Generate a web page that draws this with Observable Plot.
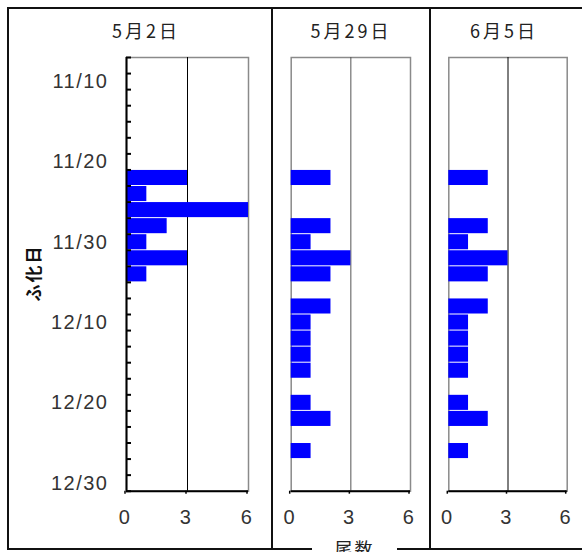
<!DOCTYPE html>
<html><head><meta charset="utf-8">
<script src="https://cdn.jsdelivr.net/npm/d3@7"></script>
<script src="https://cdn.jsdelivr.net/npm/@observablehq/plot@0.6"></script>
<style>
body{margin:0;background:#fff;}
#wrap{position:relative;width:582px;height:552px;overflow:hidden;background:#fff;font-family:"Noto Sans CJK JP",sans-serif;}
.box{position:absolute;border:2px solid #111;box-sizing:border-box;}
.vline{position:absolute;background:#111;}
.title{position:absolute;width:200px;text-align:center;font-size:18px;line-height:18px;color:#222;letter-spacing:3px;white-space:nowrap;font-family:"Noto Sans CJK JP",sans-serif;}
.xtitle{position:absolute;background:#fff;text-align:center;font-size:18px;line-height:18px;color:#222;letter-spacing:2px;font-family:"Noto Sans CJK JP",sans-serif;}
.ytitle{position:absolute;text-align:center;font-size:17px;line-height:20px;font-weight:bold;color:#111;transform:rotate(-90deg);white-space:nowrap;letter-spacing:2px;font-family:"Noto Sans CJK JP",sans-serif;}
svg{position:absolute;top:0;overflow:visible;}
</style></head><body><div id="wrap"></div>
<script>
// ---- data ----
const hatchDates = ["11/8","11/10","11/12","11/14","11/16","11/18","11/20","11/22","11/24","11/26","11/28","11/30",
  "12/2","12/4","12/6","12/8","12/10","12/12","12/14","12/16","12/18","12/20","12/22","12/24","12/26","12/28","12/30"];
const yTickLabels = ["11/10","11/20","11/30","12/10","12/20","12/30"];
const xTicks = [0, 3, 6];
const sampleDates = ["5月2日", "5月29日", "6月5日"];
const countsMay2  = [0,0,0,0,0,0,0,3,1,6,2,1,3,1,0,0,0,0,0,0,0,0,0,0,0,0,0];
const countsMay29 = [0,0,0,0,0,0,0,2,0,0,2,1,3,2,0,2,1,1,1,1,0,1,2,0,1,0,0];
const countsJun5  = [0,0,0,0,0,0,0,2,0,0,2,1,3,2,0,2,1,1,1,1,0,1,2,0,1,0,0];
const yTitle = "ふ化日";
const xTitle = "尾数";

// ---- layout ----
const wrap = document.getElementById("wrap");
const layout = [
  {left: 0,     width: 272, mL: 126,  mR: 24,   grid: "#000", yAxis: true,  titleX: 146},
  {left: 272,   width: 157, mL: 18.7, mR: 19,   grid: "#555", yAxis: false, titleX: 351},
  {left: 429,   width: 153, mL: 19.3, mR: 15.3, grid: "#000", yAxis: false, titleX: 504}
];
const seriesList = [countsMay2, countsMay29, countsJun5];

function add(tag, cls, css, text) {
  const el = document.createElement(tag);
  el.className = cls;
  Object.assign(el.style, css);
  if (text) el.textContent = text;
  wrap.appendChild(el);
  return el;
}

function panel(counts, L) {
  const rows = hatchDates.map((date, i) => ({date, i, i2: i + 1, count: counts[i]})).filter(d => d.count > 0);
  const n = hatchDates.length;
  const marks = [
    Plot.frame({stroke: "#8a8a8a", strokeWidth: 1.5}),
    Plot.ruleX([3], {stroke: L.grid, strokeWidth: 1}),
    Plot.rect(rows, {x1: d => 0, x2: "count", y1: "i", y2: "i2", fill: "#0000ff", insetTop: 0.5, insetBottom: 0.5}),
    Plot.ruleY([n], {stroke: "#000", strokeWidth: 2}),
    Plot.axisX({ticks: xTicks, tickFormat: d => String(d), label: null, tickSize: 3, tickPadding: 16,
                stroke: "#000", strokeWidth: 1.5, dx: -1.5, fill: "#333"})
  ];
  if (L.yAxis) {
    marks.push(
      Plot.ruleX([0], {stroke: "#000", strokeWidth: 2}),
      Plot.axisY({ticks: d3.range(0, n + 1), tickSize: 5, dx: 5, tickFormat: () => "", label: null, stroke: "#000", strokeWidth: 2}),
      Plot.axisY({ticks: yTickLabels.map(l => hatchDates.indexOf(l) + 0.5), label: null,
                  tickFormat: v => hatchDates[Math.round(v - 0.5)], tickSize: 0, tickPadding: 18, fill: "#333"})
    );
  }
  const svg = Plot.plot({
    width: L.width, height: 530,
    marginTop: 57, marginBottom: 39.3, marginLeft: L.mL, marginRight: L.mR,
    x: {domain: [0, 6], axis: null},
    y: {domain: [0, n], reverse: true, axis: null},
    style: {fontFamily: "Liberation Sans", fontSize: "20px", letterSpacing: "1.5px", color: "#222", background: "transparent"},
    marks
  });
  svg.style.left = L.left + "px";
  wrap.appendChild(svg);
}

// outer frames
add("div", "box", {left: "7px", top: "7px", width: "640px", height: "543px"});
add("div", "vline", {left: "271px", top: "7px", width: "2px", height: "543px"});
add("div", "vline", {left: "428.5px", top: "7px", width: "2px", height: "543px"});

layout.forEach((L, k) => {
  panel(seriesList[k], L);
  add("div", "title", {left: (L.titleX - 100) + "px", top: "21px"}, sampleDates[k]);
});

add("div", "xtitle", {left: "312px", top: "539px", width: "85px", height: "20px"}, xTitle);
add("div", "ytitle", {left: "-7.5px", top: "263px", width: "80px", height: "20px"}, yTitle);
</script></body></html>
